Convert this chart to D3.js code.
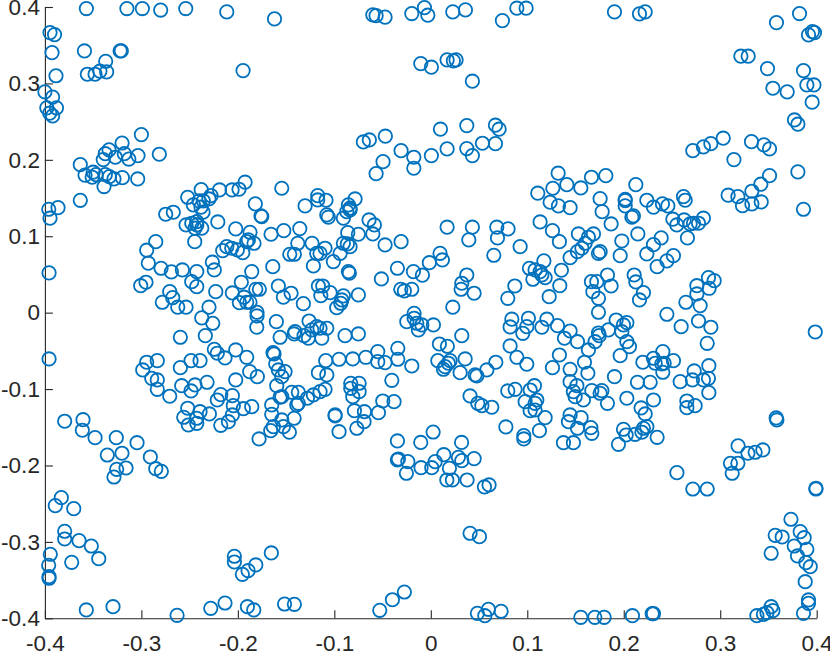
<!DOCTYPE html>
<html><head><meta charset="utf-8">
<script src="https://cdn.jsdelivr.net/npm/d3@7/dist/d3.min.js"></script>
<style>html,body{margin:0;padding:0;background:#fff}svg{display:block}</style>
</head><body><svg id="c" width="830" height="655"></svg>
<script>
const tickValues = [-0.4,-0.3,-0.2,-0.1,0,0.1,0.2,0.3,0.4];
const tickLabels = ["-0.4","-0.3","-0.2","-0.1","0","0.1","0.2","0.3","0.4"];

const topLeft = [[-.357,.398],[-.315,.398],[-.299,.398],[-.280,.396],[-.254,.398],[-.2115,.3936],[-.162,.3844],[-.3947,.3665],[-.390,.3639],[-.3926,.3403],[-.359,.3425],[-.322,.3425],[-.3208,.3425],[-.337,.329],[-.356,.312],[-.348,.312],[-.343,.316],[-.336,.315],[-.3885,.310],[-.1946,.3168],[-.40,.289],[-.392,.282],[-.388,.268],[-.398,.268],[-.395,.261],[-.392,.2575],[-.300,.233],[-.320,.222],[-.3335,.213],[-.3374,.208],[-.327,.2034],[-.3177,.208],[-.313,.201],[-.3035,.2055],[-.2814,.2073],[-.3395,.2003],[-.3633,.1937],[-.3584,.180],[-.350,.1838],[-.347,.1806],[-.351,.1772],[-.3374,.1806],[-.3332,.178],[-.3284,.175],[-.3197,.1767],[-.3038,.175],[-.3387,.165],[-.3633,.147],[-.396,.1353],[-.3864,.1374],[-.3947,.1236]];

const leftBlobUpper = [[-.252,.151],[-.238,.161],[-.219,.1606],[-.206,.1606],[-.1988,.1615],[-.1925,.1707],[-.1545,.1628],[-.2278,.1531],[-.23,.1488],[-.2461,.141],[-.2402,.1462],[-.2358,.1462],[-.2382,.138],[-.2361,.1315],[-.1819,.1423],[-.1752,.1257],[-.176,.1266],[-.2748,.1288],[-.2669,.1314],[-.2537,.1148],[-.2478,.117],[-.2426,.1148],[-.2374,.1105],[-.2444,.1105],[-.2426,.1191],[-.2208,.1187],[-.2447,.0929],[-.2022,.1096],[-.1874,.1052],[-.1656,.1026],[-.1524,.1073],[-.1358,.11],[-.1379,.0908],[-.1231,.0908],[-.2851,.0929],[-.2945,.0817],[-.2928,.0647],[-.2796,.0581],[-.2689,.0533],[-.2575,.0559],[-.2426,.0537],[-.2952,.0398],[-.3007,.0353],[-.2264,.066],[-.2244,.0559],[-.2157,.0812],[-.2115,.0864],[-.2063,.0843],[-.2005,.0821],[-.1949,.0785],[-.1908,.0929],[-.1891,.0952],[-.1832,.0908],[-.1638,.0602],[-.1856,.0537],[-.1462,.0764],[-.1414,.0764],[-.1182,.0777],[-.1217,.0611],[-.2478,.0406],[-.2426,.034],[-.2229,.0275],[-.2057,.0258],[-.1964,.0398],[-.2706,.0275],[-.2675,.0196],[-.2783,.0136],[-.2623,.0071],[-.2537,.0071],[-.2299,.0071],[-.2374,-.0069],[-.226,-.0139],[-.1984,.0131],[-.1936,.0202],[-.1908,.0136],[-.1874,.0136],[-.1814,.0306],[-.1777,.0306],[-.158,.0349],[-.1448,.0254],[-.1528,.0202],[-.1321,.0118],[-.1801,.0005],[-.1801,-.0043],[-.1804,-.0191],[-.1601,-.0118],[-.1262,-.0109],[-.1407,-.0249],[-.1182,-.0183],[-.1165,.0349]];

const centerUpper = [[-.1062,.1249],[-.1078,.1279],[-.0906,.1236],[-.0871,.1322],[-.0837,.1344],[-.064,.1213],[-.0585,.1148],[-.0601,.103],[-.0751,.1026],[-.0861,.1047],[-.0906,.0908],[-.0865,.0899],[-.0837,.0864],[-.094,.0777],[-.101,.0668],[-.1096,.0843],[-.1148,.0777],[-.0474,.0886],[-.0308,.0929],[-.0854,.0537],[-.0844,.0516],[-.0346,.0581],[-.0512,.0441],[-.018,.0537],[-.0087,.049],[-.0015,.0654],[.0096,.0777],[.012,.069],[.0169,.1118],[.0431,.1118],[.0394,.0952],[.0684,.1118],[.0801,.1096],[.0691,.0978],[.0926,.0864],[.0653,.0751],[.0373,.0493],[.0321,.0385],[.0314,.0306],[.0449,.0254],[.0228,.0071],[-.0311,.0306],[-.0274,.0284],[-.0197,.0306],[-.112,.0349],[-.1044,.0262],[-.114,.0223],[-.0906,.0219],[-.0751,.0232],[-.0923,.0166],[-.0933,.0123],[-.0975,.0065],[.0871,.0349],[.0798,.0188],[.1022,.0581],[-.1148,-.0204],[-.1078,-.0204],[-.0249,-.0118],[-.0173,-.0008],[-.0173,-.0073],[-.0145,-.0139],[-.0093,-.0161],[.0027,-.0161],[-.0129,-.0226],[.084,-.0086],[.1012,-.0073],[.0995,-.0183],[.0822,-.0187]];

const rightBlobUpper = [[.1133,.1187],[.1261,.1073],[.1333,.0929],[.153,.103],[.1686,.103],[.1634,.0987],[.16,.0908],[.1566,.0843],[.152,.0798],[.1444,.072],[.1755,.0798],[.1738,.0777],[.1963,.0746],[.198,.0938],[.2146,.103],[.1869,.1161],[.21,.1266],[.2084,.1249],[.2308,.138],[.2509,.1223],[.255,.1148],[.2626,.1213],[.2688,.1161],[.2723,.117],[.2775,.117],[.2826,.1236],[.266,.0978],[.2388,.0978],[.2308,.089],[.2239,.0768],[.2515,.0746],[.2447,.0677],[.2346,.0602],[.1172,.0677],[.1081,.0559],[.1133,.0537],[.1185,.0458],[.1058,.0437],[.1151,.0493],[.1354,.0555],[.1337,.0353],[.1227,.0209],[.1831,.0493],[.1665,.0406],[.1721,.0406],[.1869,.0349],[.168,.0275],[.1738,.0188],[.1738,.0005],[.2108,.0493],[.2125,.0402],[.2204,.0262],[.2163,.0166],[.2447,-.0021],[.2644,.0136],[.2758,.0353],[.2758,.0245],[.2792,.0092],[.2878,.0458],[.2937,.0419],[.2885,.0319],[.2775,-.0109],[.2595,-.0183],[.2903,-.0191],[.1203,-.0086],[.1313,-.017],[.1151,-.0191],[.1444,-.024],[.1921,-.0096],[.2032,-.0131],[.1997,-.0161],[.1841,-.0226],[.1738,-.0266]];

const leftBlobLower = [[-.2596,-.0322],[-.2337,-.0301],[-.1562,-.0322],[-.1417,-.0279],[-.1314,-.0301],[-.1269,-.0335],[-.1234,-.0226],[-.2244,-.0479],[-.2213,-.0531],[-.2133,-.0593],[-.2022,-.0488],[-.1908,-.0584],[-.1635,-.0524],[-.1625,-.0541],[-.1607,-.0671],[-.158,-.075],[-.1511,-.0772],[-.1545,-.0838],[-.2945,-.0649],[-.2835,-.0628],[-.2986,-.075],[-.2596,-.072],[-.2485,-.0628],[-.2392,-.0628],[-.1877,-.0772],[-.1798,-.0838],[-.2893,-.0859],[-.2835,-.0881],[-.2835,-.1003],[-.2706,-.1094],[-.2582,-.0956],[-.2444,-.0946],[-.2485,-.1025],[-.2319,-.0911],[-.2022,-.0881],[-.1597,-.0956],[-.2177,-.1073],[-.2213,-.1143],[-.2057,-.1086],[-.2047,-.1217],[-.1943,-.1257],[-.1856,-.123],[-.252,-.1251],[-.2392,-.1296],[-.2295,-.1326],[-.2561,-.1369],[-.2426,-.1382],[-.2513,-.147],[-.2426,-.1448],[-.2057,-.1339],[-.2098,-.1427],[-.2177,-.1474],[-.1649,-.1208],[-.1649,-.133],[-.1562,-.1107],[-.1545,-.11],[-.1441,-.1042],[-.1373,-.1042],[-.1389,-.1208],[-.1373,-.1186],[-.1279,-.112],[-.1217,-.1077],[-.1148,-.1034],[-.1417,-.1382],[-.1545,-.1404],[-.1632,-.1492],[-.1528,-.1492],[-.1466,-.1565],[-.1659,-.1544],[-.178,-.1653]];

const centerLower = [[-.0889,-.0301],[-.0751,-.0279],[-.113,-.0335],[.0089,-.041],[.0172,-.044],[.0321,-.0301],[.0954,-.027],[.0822,-.0436],[.0892,-.0584],[.0995,-.0675],[-.055,-.051],[-.0342,-.0466],[-.0342,-.061],[-.055,-.0641],[-.0474,-.0654],[-.0674,-.0584],[-.0809,-.0606],[-.0951,-.061],[-.1089,-.0628],[-.0197,-.0698],[-.1165,-.0785],[-.1078,-.0815],[.0073,-.0628],[.02,-.0628],[.0356,-.0606],[.0182,-.0662],[.0148,-.0707],[.0131,-.0741],[.0304,-.0785],[.0459,-.0815],[.0477,-.0829],[.0581,-.075],[.0674,-.0649],[-.0404,-.0885],[-.083,-.0924],[-.0743,-.0924],[-.083,-.099],[-.0743,-.1034],[-.0809,-.11],[-.1096,-.1003],[-.0498,-.1156],[-.0381,-.1165],[-.0792,-.1283],[-.0688,-.1296],[-.0543,-.1309],[-.0992,-.1339],[-.0992,-.1352],[-.0692,-.1427],[-.0767,-.1513],[-.0951,-.1558],[.0407,-.109],[.0487,-.1186],[.0529,-.1217],[.0632,-.1238],[.0798,-.1025],[.0874,-.1003],[.0978,-.1165],[.103,-.1283],[.0778,-.1496],[.0964,-.161],[.0964,-.1653],[-.0346,-.1679],[-.0104,-.1699],[.0024,-.1562],[.0319,-.1699],[.103,-.1012]];

const rightBlobLower = [[.1385,-.0335],[.152,-.038],[.1745,-.0301],[.1703,-.038],[.1634,-.0488],[.198,-.0249],[.2032,-.038],[.2059,-.0445],[.1963,-.0563],[.2865,-.0401],[.1333,-.0554],[.1261,-.072],[.1444,-.0741],[.1593,-.0649],[.1628,-.0793],[.1904,-.0838],[.1444,-.0903],[.1514,-.0956],[.1478,-.1034],[.1496,-.11],[.1582,-.1143],[.1669,-.1021],[.1773,-.1021],[.1755,-.1055],[.1831,-.1186],[.1074,-.0956],[.1099,-.1143],[.1081,-.1186],[.1081,-.1274],[.1185,-.1374],[.1126,-.1544],[.1444,-.1339],[.1427,-.1427],[.1558,-.1374],[.152,-.1513],[.1659,-.1505],[.1669,-.1579],[.1375,-.1702],[.1478,-.1702],[.2032,-.112],[.2308,-.1143],[.2142,-.0911],[.2274,-.0911],[.2198,-.0649],[.2308,-.0597],[.2326,-.0662],[.2405,-.051],[.2515,-.0628],[.2395,-.0671],[.2419,-.0662],[.2405,-.078],[.2585,-.0903],[.273,-.0763],[.2712,-.0881],[.2826,-.0881],[.2878,-.0859],[.2882,-.0694],[.2882,-.1047],[.218,-.1247],[.2222,-.1326],[.2239,-.1492],[.2204,-.1513],[.2188,-.1565],[.2118,-.1592],[.2025,-.1601],[.1997,-.1526],[.1945,-.1723],[.2346,-.1631],[.2654,-.1156],[.274,-.1217],[.2654,-.1244]];

const topCenter = [[-.0601,.3897],[-.0567,.3887],[-.0474,.3867],[-.0197,.3914],[-.0066,.3992],[-.0031,.3893],[.0228,.3936],[.0359,.3962],[.0742,.3822],[.0892,.3984],[.0988,.3984],[-.0104,.3259],[.0006,.3212],[.0169,.3308],[.0234,.3295],[.0262,.3308],[.0431,.3029],[.01,.2401],[.0373,.2448],[.067,.2453],[.0708,.2401],[-.0699,.2234],[-.0637,.226],[-.0471,.2309],[-.0308,.212],[-.0176,.2034],[-.0176,.189],[.0006,.2055],[.0169,.2143],[.0373,.2147],[.0431,.2055],[.0535,.2217],[.067,.2212],[-.0495,.1976],[-.0567,.1819],[-.1172,.1531],[-.1172,.1475],[-.1086,.1471],[-.1303,.1397],[-.0785,.1488],[-.0854,.141],[-.0837,.1367]];

const rightBlobTop = [[.132,.1825],[.1265,.1628],[.141,.1675],[.1109,.1563],[.1237,.1445],[.1323,.1397],[.1444,.1374],[.1555,.1632],[.1665,.1772],[.1814,.1793],[.2125,.1675],[.1755,.1492],[.2015,.1484],[.2015,.1466],[.2015,.1397],[.1776,.1322],[.2239,.1471],[.2401,.1423],[.2457,.1397],[.2619,.1518],[.2637,.1471]];

const topRight = [[.1904,.3936],[.2163,.391],[.2222,.3936],[.3583,.3796],[.3822,.3914],[.3915,.3635],[.3956,.3678],[.3977,.3665],[.3214,.3356],[.329,.3356],[.349,.3194],[.3863,.3168],[.3546,.2937],[.3694,.2889],[.3898,.298],[.3971,.298],[.3953,.2754],[.377,.2522],[.3805,.2466],[.2716,.212],[.2826,.2169],[.2903,.2212],[.3031,.2283],[.3324,.2238],[.3453,.2195],[.3511,.2143],[.3142,.2003],[.3805,.1842],[.3511,.1793],[.3421,.1681],[.3328,.1589],[.3082,.1537],[.3183,.1518],[.3231,.14],[.3328,.1423],[.3425,.1449],[.3863,.1353]];

const leftEdge = [[-.3957,.052],[-.3957,-.0606]];
const rightEdge = [[.3985,-.0253]];

const bottomLeft = [[-.3795,-.1421],[-.3605,-.1401],[-.3612,-.1539],[-.348,-.1636],[-.326,-.1636],[-.3045,-.1702],[-.3353,-.1863],[-.3201,-.184],[-.2907,-.1889],[-.3256,-.205],[-.3159,-.2033],[-.3284,-.2151],[-.2851,-.2042],[-.2793,-.2076],[-.383,-.2421],[-.3892,-.2526],[-.3701,-.2565],[-.3795,-.2861],[-.3795,-.2962],[-.3646,-.2984],[-.3519,-.3054],[-.3442,-.322],[-.3722,-.3267],[-.3944,-.3162],[-.3961,-.3306],[-.3957,-.3455],[-.3957,-.3476],[-.3571,-.3891],[-.3294,-.3848],[-.263,-.3961],[-.2281,-.3869],[-.2133,-.38],[-.1901,-.3848],[-.1835,-.3891],[-.1516,-.3813],[-.1414,-.3817],[-.1653,-.3145],[-.2036,-.3188],[-.2036,-.3263],[-.1814,-.3302],[-.1894,-.3377],[-.1953,-.3424]];

const bottomCenter = [[-.0336,-.1915],[-.0346,-.1928],[-.0238,-.195],[-.0253,-.2102],[-.0101,-.2029],[.001,-.2029],[.0045,-.195],[.0135,-.1859],[.0286,-.1893],[.0321,-.1937],[.0449,-.1911],[.0193,-.2037],[.0166,-.219],[.0224,-.219],[.0376,-.219],[.0556,-.2281],[.0604,-.2255],[.0407,-.2887],[.0504,-.2932],[-.0274,-.3656],[-.0398,-.3757],[-.0529,-.3895],[.0483,-.3935],[.056,-.3966],[.0597,-.3882],[.0729,-.3908]];

const bottomRight = [[.2551,-.2094],[.2716,-.2308],[.2865,-.2308],[.3185,-.1743],[.3287,-.184],[.3362,-.1827],[.3442,-.1797],[.3106,-.1971],[.3183,-.1971],[.3124,-.2102],[.3992,-.2298],[.3992,-.2308],[.358,-.1378],[.3587,-.1404],[.3733,-.2704],[.3829,-.2866],[.387,-.2945],[.357,-.2914],[.3642,-.2936],[.3767,-.3054],[.3898,-.3097],[.3801,-.3184],[.3528,-.3149],[.3888,-.3272],[.3933,-.3325],[.3881,-.3521],[.3915,-.376],[.3915,-.3804],[.3863,-.3935],[.3528,-.3848],[.3546,-.39],[.3484,-.3927],[.3448,-.3948],[.338,-.3966],[.1555,-.3987],[.17,-.3987],[.1797,-.3987],[.209,-.3966],[.2295,-.394],[.2308,-.394]];

const allPoints = [].concat(topLeft,leftBlobUpper,centerUpper,rightBlobUpper,leftBlobLower,centerLower,rightBlobLower,topCenter,rightBlobTop,topRight,leftEdge,rightEdge,bottomLeft,bottomCenter,bottomRight);

const svg = d3.select("#c");
const x = d3.scaleLinear().domain([-0.4,0.4]).range([44.9,816.7]);
const y = d3.scaleLinear().domain([-0.4,0.4]).range([618.3,7]);
const ink = "#262626";
const fontFam = "'Liberation Sans', Arial, sans-serif";

const labelFor = v => tickLabels[tickValues.indexOf(v)];
const xAxis = d3.axisBottom(x).tickValues(tickValues).tickFormat(labelFor).tickSize(-8).tickSizeOuter(0).tickPadding(17);
const yAxis = d3.axisLeft(y).tickValues(tickValues).tickFormat(labelFor).tickSize(-8).tickSizeOuter(0).tickPadding(5);

const gx = svg.append("g").attr("transform","translate(0,618.3)").call(xAxis);
const gy = svg.append("g").attr("transform","translate(44.9,0)").call(yAxis);
[gx,gy].forEach(g=>{
  g.selectAll("path,line").attr("stroke",ink).attr("stroke-width",1.1).attr("fill","none");
  g.selectAll("text").attr("fill",ink).style("font-family",fontFam).style("font-size","22.5px");
});

svg.append("g").selectAll("circle").data(allPoints).join("circle")
  .attr("cx",d=>x(d[0])).attr("cy",d=>y(d[1])).attr("r",6.7)
  .attr("fill","none").attr("stroke","#0072BD").attr("stroke-width",1.8);
</script></body></html>
